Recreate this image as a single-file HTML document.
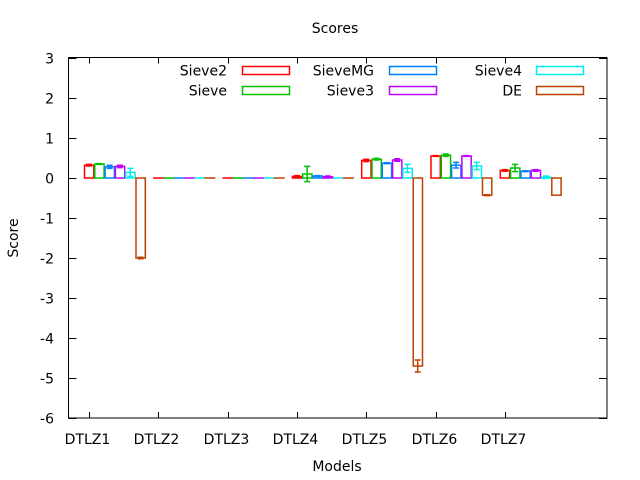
<!DOCTYPE html>
<html><head><meta charset="utf-8"><style>
body{margin:0;background:#fff}
svg{display:block}
text{font-family:"DejaVu Sans","Liberation Sans",sans-serif;font-size:14px;fill:#000}
</style></head><body>
<svg id="chart" width="640" height="480">
<rect width="640" height="480" fill="#fff"/>
<text x="335" y="33" text-anchor="middle">Scores</text>
<text x="337" y="471" text-anchor="middle">Models</text>
<text transform="translate(18,238) rotate(-90)" text-anchor="middle">Score</text>
<g id="grid"></g><g id="bars"></g><g id="legend"></g>
<rect x="68.5" y="57.5" width="538.5" height="360.5" fill="none" stroke="#000" stroke-width="1"/>
</svg>
<script>
const categories=["DTLZ1","DTLZ2","DTLZ3","DTLZ4","DTLZ5","DTLZ6","DTLZ7"];
const seriesNames=["Sieve2","Sieve","SieveMG","Sieve3","Sieve4","DE"];
const sieve2=[0.32,0,0,0.04,0.44,0.55,0.19];
const sieve=[0.35,0,0,0.1,0.47,0.57,0.25];
const sieveMG=[0.28,0,0,0.05,0.37,0.32,0.17];
const sieve3=[0.29,0,0,0.03,0.45,0.55,0.19];
const sieve4=[0.14,0,0,0,0.24,0.3,0.02];
const de=[-2.0,0,0,0,-4.7,-0.43,-0.43];
const err2=[0.02,0,0,0.02,0.03,0.01,0.02];
const errS=[0.01,0,0,0.19,0.02,0.03,0.09];
const errMG=[0.04,0,0,0.01,0.01,0.07,0.01];
const err3=[0.03,0,0,0.02,0.03,0.01,0.02];
const err4=[0.1,0,0,0,0.1,0.09,0.03];
const errDE=[0.02,0,0,0,0.15,0.01,0];
const yTicks=[3,2,1,0,-1,-2,-3,-4,-5,-6];
const colors=["#ff0000","#00c000","#0080ff","#c000ff","#00eeee","#c04000"];
const ns="http://www.w3.org/2000/svg";
const Y=v=>178-40*v;
const X=(i,j)=>84+69.3*i+10.3*j;
function mk(tag,attrs,parent){const e=document.createElementNS(ns,tag);for(const k in attrs)e.setAttribute(k,attrs[k]);parent.appendChild(e);return e;}
const grid=document.getElementById('grid');
yTicks.forEach(t=>{const y=Y(t)+0.5;
 const l=mk('path',{d:`M68.5 ${y}h8M607 ${y}h-8`,stroke:'#000'},grid);
 
 
 const tx=mk('text',{x:54,y:y+5,'text-anchor':'end'},grid);tx.textContent=t;
 
 });
categories.forEach((c,i)=>{const x=Math.round(X(i,0)+5)+0.5;
 const l=mk('path',{d:`M${x} 418v-6M${x} 57.5v6`,stroke:'#000'},grid);
 
 
 const tx=mk('text',{x:x-2,y:444,'text-anchor':'middle'},grid);tx.textContent=c;
 
 });
const vals=[sieve2,sieve,sieveMG,sieve3,sieve4,de];
const errs=[err2,errS,errMG,err3,err4,errDE];
const bars=document.getElementById('bars');
vals.forEach((s,j)=>{s.forEach((v,i)=>{
 const x=X(i,j),y0=Y(0),y1=Y(v);
 const r=mk('rect',{x:x+0.5,y:Math.min(y0,y1),width:9.3,height:Math.max(Math.abs(y1-y0),0.01),fill:'none',stroke:colors[j],'stroke-width':1.5},bars);
 
 
 const e=errs[j][i];
 if(e>0){const cx=x+5,a=Y(v+e),b=Y(v-e);
  const p=mk('path',{d:`M${cx} ${a}V${b}M${cx-3} ${a}h6M${cx-3} ${b}h6`,stroke:colors[j],'stroke-width':1.5,fill:'none'},bars);
  
  }
});});
const lg=document.getElementById('legend');
const lx=[227,374,522],sx=[242,389,536],ly=[70.5,90.5];
seriesNames.forEach((n,k)=>{const col=Math.floor(k/2),row=k%2;
 const t=mk('text',{x:lx[col],y:ly[row]+5,'text-anchor':'end'},lg);t.textContent=n;
 
 
 const r=mk('rect',{x:sx[col]+0.5,y:ly[row]-4,width:47,height:8,fill:'none',stroke:colors[k],'stroke-width':1.5},lg);
 
 });
</script>
</body></html>
